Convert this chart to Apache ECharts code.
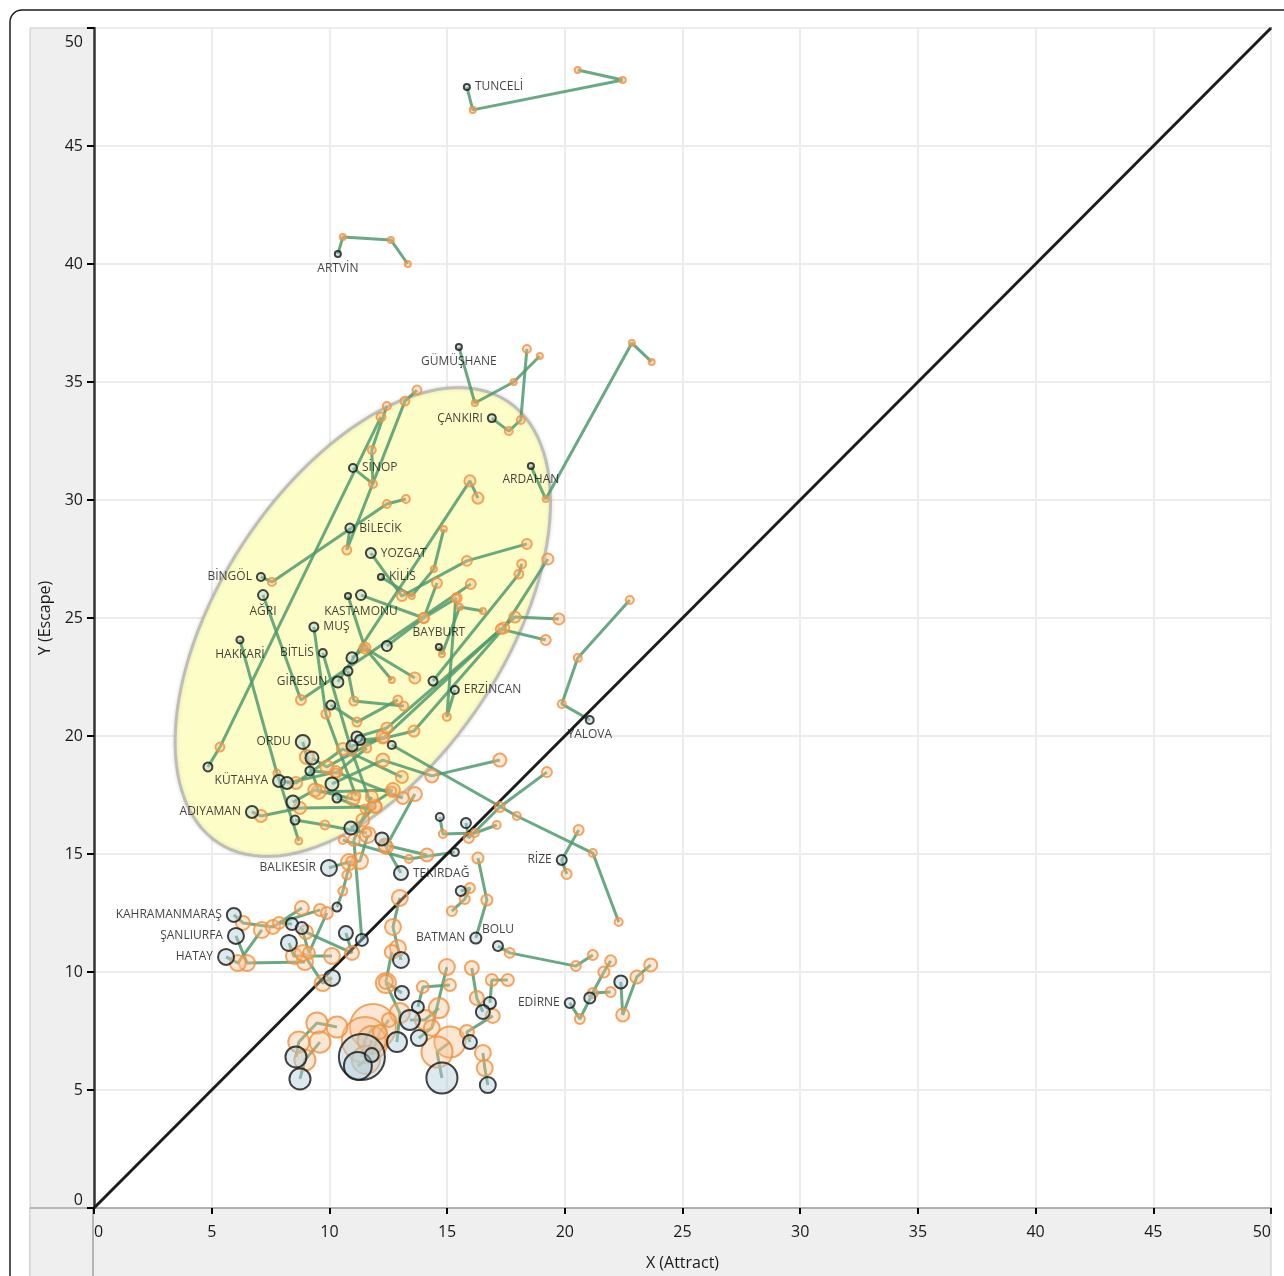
<!DOCTYPE html>
<html><head><meta charset="utf-8">
<script src="https://cdn.jsdelivr.net/npm/echarts@6/dist/echarts.min.js"></script>
<style>html,body{margin:0;padding:0;background:#fff}#c{width:1284px;height:1276px}</style>
</head><body><div id="c"></div>
<script>
// ---------- DATA (data units: X = Attract, Y = Escape) ----------
const provNames = ['TUNCELİ','ARTVİN','GÜMÜŞHANE','ÇANKIRI','ARDAHAN','SİNOP','BİLECİK','YOZGAT','KİLİS','BİNGÖL',
 'AĞRI','KASTAMONU','','MUŞ','BAYBURT','HAKKARİ','BİTLİS','GİRESUN','ERZİNCAN','ORDU',
 'YALOVA','KÜTAHYA','','ADIYAMAN','BALIKESİR','TEKİRDAĞ','RİZE','KAHRAMANMARAŞ','ŞANLIURFA','HATAY',
 'BATMAN','BOLU','EDİRNE','','','','','','','',
 '','','','','','','','','','',
 '','','','','','','','','','',
 '','','','','','','','','','',
 '','','','','','','','','',''];
const provX = [
 [20.55,22.46,16.09,15.84],[13.33,12.61,10.57,10.36],[18.94,17.83,16.18,15.50],[18.39,18.13,17.62,16.90],[23.69,22.85,19.19,18.56],
 [12.44,11.80,11.85,11.00],[13.72,13.21,10.74,10.87],[18.39,15.84,13.08,11.76],[14.86,14.44,13.50,12.19],[13.25,12.44,7.56,7.09],
 [16.01,8.79,7.18],[15.41,14.01,11.34],[12.65,11.51,10.79],[11.13,9.85,9.34],[16.52,15.54,14.78,14.65],
 [8.70,7.77,6.20],[11.80,10.96,9.72],[16.31,15.97,10.36],[15.37,14.99,15.33],[12.70,9.55,9.04,8.87],
 [22.76,20.55,19.87,21.06],[13.08,10.57,8.58,7.86],[13.12,10.28,8.20],[11.97,8.75,7.09,6.71],[11.63,11.30,10.83,9.98],
 [13.63,12.40,13.04],[20.59,19.87,20.08],[8.83,7.60,6.33,5.94],[8.96,6.50,6.03],[7.13,6.11,5.61],
 [16.31,16.69,16.22],[21.19,20.47,17.66,17.16],[21.95,21.19,20.64,20.21],[21.95,21.66,21.06],[23.65,23.06,22.46,22.38],
 [14.57,14.01,12.44],[13.63,11.51,10.96],[13.16,11.04,10.79],[18.17,18.05,14.40],[12.91,11.17,10.06],
 [12.27,9.89,9.26],[11.59,10.28,9.17],[19.75,17.88,12.44,11.17],[19.19,17.28,12.31,11.30],[19.28,17.41,13.59,10.96],
 [22.29,21.19,17.96,12.65],[12.19,5.35,4.84],[17.24,14.35,12.27,10.11],[11.00,9.38,8.45],[12.65,11.51,10.32],
 [11.59,9.81,8.54],[11.93,11.42,10.91],[14.14,12.36,12.23],[17.11,16.18,14.82,14.69],[19.24,17.24,15.92,15.80],
 [10.57,13.38,15.33],[15.20,15.75,15.97,15.58],[10.91,10.74,10.57,10.32],[9.60,7.86,8.41],[9.89,9.13,8.83],
 [10.11,8.49,8.28],[9.00,10.96,10.70],[11.80,11.04,11.38],[12.99,12.70,12.91,13.04],[8.87,9.72,10.11],
 [12.65,12.40,13.08],[15.12,13.97,13.76],[14.65,14.06,13.42],[12.40,12.99,12.87],[14.99,14.35,13.80],
 [16.94,15.84,15.97],[17.58,16.90,16.82],[16.05,16.26,16.52],[15.12,14.57,14.78],[16.52,16.60,16.73],
 [11.85,11.51,11.38],[11.80,11.55,11.21],[12.53,12.14,11.80],[10.32,9.47,8.70,8.58],[9.60,8.96,8.75],
 [13.12,13.08,13.08]
];
const provY = [
 [48.22,47.80,46.53,47.50],[40.00,41.02,41.14,40.42],[36.10,35.00,34.11,36.48],[36.40,33.39,32.92,33.47],[35.85,36.65,30.04,31.44],
 [33.98,32.12,30.68,31.36],[34.66,34.19,27.88,28.81],[28.14,27.42,25.93,27.75],[28.77,27.08,25.93,26.74],[30.04,29.83,26.53,26.74],
 [26.44,21.53,25.97],[25.85,25.00,25.97],[22.37,23.73,25.93],[17.46,20.93,24.62],[25.30,25.47,23.47,23.77],
 [15.55,18.43,24.07],[17.03,19.32,23.52],[30.08,30.81,22.29],[25.85,20.81,21.95],[17.71,17.63,19.11,19.75],
 [25.76,23.31,21.36,20.68],[18.26,19.45,18.01,18.09],[17.37,18.47,18.01],[16.99,16.95,16.61,16.78],[15.81,14.70,14.66,14.41],
 [17.54,15.30,14.19],[16.02,14.75,14.15],[12.71,11.91,12.08,12.42],[10.42,10.38,11.53],[11.78,10.38,10.64],
 [14.83,13.05,11.44],[10.72,10.25,10.81,11.10],[9.15,9.11,8.01,8.69],[10.47,10.00,8.90],[10.30,9.79,8.18,9.58],
 [26.48,25.00,23.81],[22.46,23.73,23.31],[21.27,21.48,22.75],[27.29,26.86,22.33],[21.53,20.59,21.31],
 [19.96,18.69,19.07],[19.49,18.43,18.52],[24.96,25.04,20.34,19.96],[24.07,24.53,19.92,19.83],[27.50,24.58,20.21,19.58],
 [12.12,15.04,16.61,19.62],[33.52,19.53,18.69],[18.98,18.31,18.98,17.97],[17.33,17.71,17.20],[17.67,16.91,17.37],
 [15.89,16.23,16.44],[17.03,16.44,16.10],[14.96,15.38,15.64],[16.23,15.89,15.85,16.57],[18.47,16.99,15.68,16.31],
 [15.59,14.79,15.08],[12.58,13.09,13.56,13.43],[14.70,14.11,13.43,12.75],[12.63,12.08,12.03],[12.50,10.81,11.86],
 [10.68,10.68,11.23],[11.69,10.81,11.65],[17.42,15.59,11.36],[13.14,11.91,11.02,10.51],[10.81,9.53,9.75],
 [10.85,9.58,9.11],[9.45,9.36,8.52],[8.47,7.97,7.97],[9.53,8.26,7.03],[10.21,7.63,7.20],
 [8.14,7.46,7.03],[9.66,9.66,8.69],[10.17,8.90,8.31],[7.03,6.61,5.51],[6.57,5.93,5.21],
 [7.67,7.12,6.40],[7.12,6.27,6.02],[7.97,7.46,6.48],[7.67,7.84,7.03,6.40],[7.03,6.27,5.47],
 [6.91,6.27,5.42]
];
// population-like weight (millions) driving bubble size
const provPop = [0.06,0.06,0.06,0.18,0.06,0.18,0.27,0.38,0.06,0.18,
 0.38,0.38,0.06,0.27,0.06,0.11,0.18,0.52,0.18,1.0,
 0.18,0.66,0.66,0.66,1.42,1.0,0.38,1.0,1.42,1.42,
 0.52,0.38,0.38,0.52,0.82,0.38,0.52,0.27,0.27,0.27,
 0.82,0.27,0.52,0.38,0.52,0.18,0.27,0.82,0.82,0.27,
 0.27,0.82,0.82,0.18,0.38,0.18,0.38,0.27,0.66,0.66,
 1.42,1.0,0.66,1.42,1.42,1.0,0.66,2.47,2.47,1.42,
 1.0,0.66,1.0,6.9,1.42,16.4,5.4,1.0,2.8,2.8,1.9];
// index of the highlighted (current) observation; -1 = last
const currentIdx = provNames.map((n) => n === 'RİZE' ? 1 : -1);
const diagonal = [[0, 0], [50, 50]];
const ellipse = {cx: 11.42, cy: 24.83, a: 11.19, b: 6.08, angleDeg: 56.7};
const axisTicks = {min: 0, max: 50, interval: 5};

// ---------- label placement (style only) ----------
const labelPlace = {
 'TUNCELİ':['right',[0,0]], 'ARTVİN':['bottom',[-3,0]], 'GÜMÜŞHANE':['bottom',[-2,0]], 'ÇANKIRI':['left',[0,0]],
 'ARDAHAN':['bottom',[-2,0]], 'SİNOP':['right',[0,0]], 'BİLECİK':['right',[0,0]], 'YOZGAT':['right',[0,0]],
 'KİLİS':['right',[0,0]], 'BİNGÖL':['left',[0,0]], 'AĞRI':['bottom',[-3,0]], 'KASTAMONU':['bottom',[-3,0]],
 'MUŞ':['right',[0,0]], 'BAYBURT':['top',[25,0]], 'HAKKARİ':['bottom',[-4,0]], 'BİTLİS':['left',[0,0]],
 'GİRESUN':['left',[0,0]], 'ERZİNCAN':['right',[0,0]], 'ORDU':['left',[0,0]], 'YALOVA':['bottom',[11,0]],
 'KÜTAHYA':['left',[0,0]], 'ADIYAMAN':['left',[0,0]], 'BALIKESİR':['left',[0,0]], 'TEKİRDAĞ':['right',[0,0]],
 'RİZE':['left',[0,0]], 'KAHRAMANMARAŞ':['left',[0,0]], 'ŞANLIURFA':['left',[0,0]], 'BATMAN':['left',[0,0]],
 'HATAY':['left',[0,0]], 'BOLU':['top',[14,-2]], 'EDİRNE':['left',[0,0]]
};

const FONT = '"Open Sans", "Noto Sans", sans-serif';
const sizeOf = (p) => 3.5 + 10.5 * Math.sqrt(p);

const series = [];
// ellipse
series.push({
 type: 'custom', silent: true, z: 1, data: [[ellipse.cx, ellipse.cy]],
 renderItem: function (params, api) {
  const th = ellipse.angleDeg * Math.PI / 180, pts = [];
  for (let i = 0; i <= 120; i++) {
   const t = i / 120 * 2 * Math.PI;
   const x = ellipse.cx + ellipse.a * Math.cos(th) * Math.cos(t) - ellipse.b * Math.sin(th) * Math.sin(t);
   const y = ellipse.cy + ellipse.a * Math.sin(th) * Math.cos(t) + ellipse.b * Math.cos(th) * Math.sin(t);
   pts.push(api.coord([x, y]));
  }
  return {type: 'polygon', shape: {points: pts},
   style: {fill: '#fdfdc8', stroke: 'rgba(175,175,175,0.75)', lineWidth: 3, shadowBlur: 4, shadowColor: 'rgba(0,0,0,0.15)'}};
 }
});
// trajectories
provNames.forEach((n, i) => {
 series.push({type: 'line', silent: true, z: 2, symbol: 'none', animation: false,
  data: provX[i].map((x, j) => [x, provY[i][j]]),
  lineStyle: {color: '#4f9a6e', width: 3, opacity: 0.85}});
});
// diagonal
series.push({type: 'line', silent: true, z: 3, symbol: 'none', data: diagonal,
 lineStyle: {color: '#1c1c1c', width: 3}});
// earlier observations and highlighted ones
const pastData = [], curData = [];
provNames.forEach((n, i) => {
 const k = currentIdx[i] < 0 ? provX[i].length - 1 : currentIdx[i];
 provX[i].forEach((x, j) => {
  if (j !== k) pastData.push([x, provY[i][j], provPop[i]]);
 });
 const item = {value: [provX[i][k], provY[i][k], provPop[i]]};
 if (n) {
  const lp = labelPlace[n] || ['right', [0, 0]];
  item.label = {show: true, formatter: n, position: lp[0], offset: lp[1], distance: 4,
   fontSize: 12, color: '#111', fontFamily: FONT};
 }
 curData.push(item);
});
pastData.sort((a, b) => b[2] - a[2]);
series.push({type: 'scatter', z: 4, data: pastData, symbolSize: (v) => sizeOf(v[2]),
 itemStyle: {color: 'rgba(248,192,145,0.48)', borderColor: '#ef9140', borderWidth: 2}});
series.push({type: 'scatter', z: 5, data: curData, symbolSize: (v) => sizeOf(v[2]),
 itemStyle: {color: 'rgba(175,208,220,0.55)', borderColor: '#141414', borderWidth: 2},
 label: {show: false}, labelLayout: {hideOverlap: false}});

const chart = echarts.init(document.getElementById('c'));
chart.setOption({
 animation: false,
 backgroundColor: '#fff',
 grid: {left: 94, right: 13, top: 28, bottom: 68, show: true, borderColor: '#707070', borderWidth: 2, backgroundColor: '#fff'},
 graphic: [
  {type: 'rect', z: -10, shape: {x: 30, y: 28, width: 64, height: 1260}, style: {fill: '#efefef', stroke: '#c8c8c8', lineWidth: 1}},
  {type: 'rect', z: -10, shape: {x: 30, y: 1208, width: 1241, height: 80}, style: {fill: '#efefef', stroke: '#c8c8c8', lineWidth: 1}},
  {type: 'line', z: -9, shape: {x1: 93, y1: 1208, x2: 93, y2: 1276}, style: {stroke: '#b5b5b5', lineWidth: 2}},
  {type: 'line', z: -9, shape: {x1: 30, y1: 1208, x2: 94, y2: 1208}, style: {stroke: '#b5b5b5', lineWidth: 2}},
  {type: 'rect', z: -8, shape: {x: 10, y: 10, width: 1290, height: 1320, r: 12}, style: {fill: 'none', stroke: '#1a1a1a', lineWidth: 1.5}}
 ],
 xAxis: {type: 'value', min: axisTicks.min, max: axisTicks.max, interval: axisTicks.interval,
  name: 'X (Attract)', nameLocation: 'middle', nameGap: 47,
  nameTextStyle: {fontSize: 16, color: '#1a1a1a', fontFamily: FONT},
  axisLine: {show: true, onZero: false, lineStyle: {color: '#b0b0b0', width: 2}},
  axisTick: {show: true, length: 6, lineStyle: {color: '#000', width: 2}},
  axisLabel: {fontSize: 16, color: '#1a1a1a', margin: 16, fontFamily: FONT, alignMinLabel: 'left', alignMaxLabel: 'right'},
  splitLine: {show: true, lineStyle: {color: '#ececec', width: 2}}},
 yAxis: {type: 'value', min: axisTicks.min, max: axisTicks.max, interval: axisTicks.interval,
  name: 'Y (Escape)', nameLocation: 'middle', nameGap: 40, nameRotate: 90,
  nameTextStyle: {fontSize: 16, color: '#1a1a1a', fontFamily: FONT},
  axisLine: {show: true, onZero: false, lineStyle: {color: '#333', width: 2.5}},
  axisTick: {show: true, length: 7, lineStyle: {color: '#000', width: 2}},
  axisLabel: {fontSize: 16, color: '#1a1a1a', margin: 11, fontFamily: FONT,
   verticalAlignMaxLabel: 'top', verticalAlignMinLabel: 'bottom',
   formatter: (v) => v === axisTicks.max ? '{mx|' + v + '}' : String(v),
   rich: {mx: {fontSize: 16, color: '#1a1a1a', fontFamily: FONT, padding: [6, 0, 0, 0]}}},
  splitLine: {show: true, lineStyle: {color: '#ececec', width: 2}}},
 series: series
});
</script></body></html>
